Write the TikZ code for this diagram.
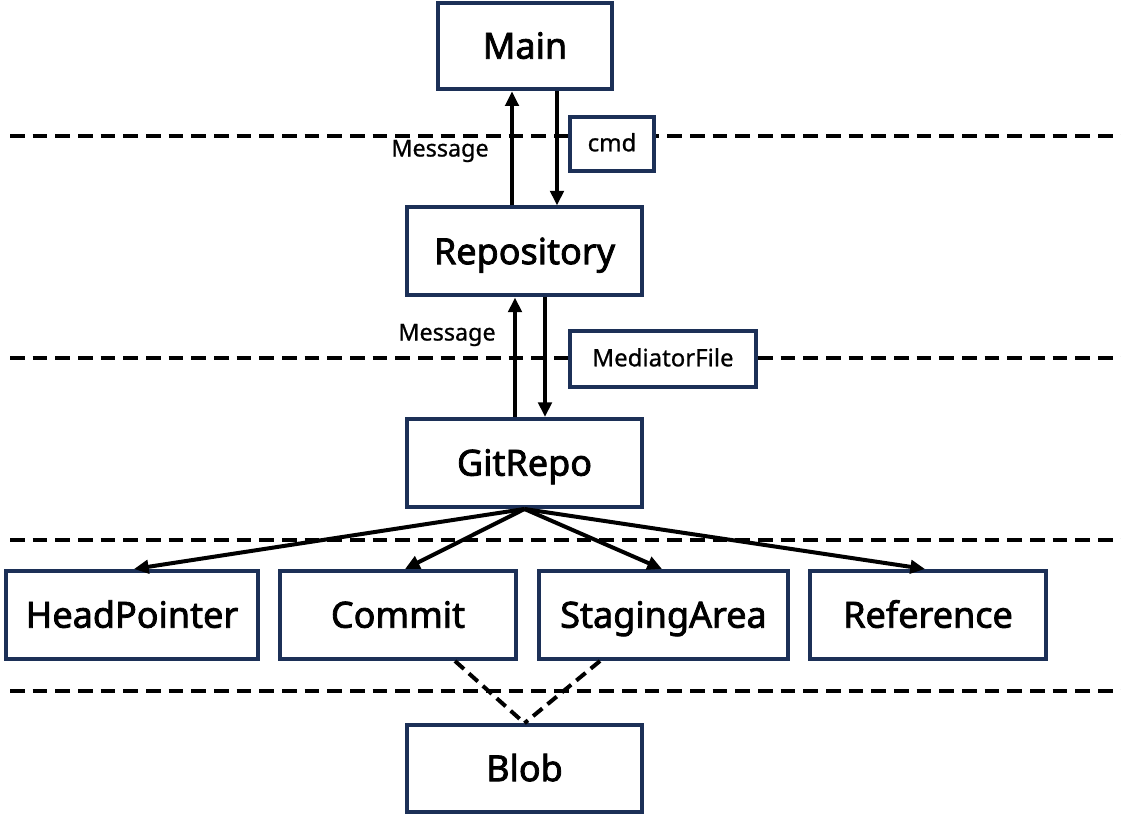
\documentclass[tikz,border=0pt]{standalone}
\usepackage{fontspec}
\setmainfont{Noto Sans}
\newfontfamily\heavy{Noto Sans}[FakeBold=2.2]
\newfontfamily\medium{Noto Sans}[FakeBold=0.8]
\usetikzlibrary{arrows.meta}
\definecolor{navy}{HTML}{1C3057}
\begin{document}
\begin{tikzpicture}[x=0.75pt,y=-0.75pt,
  box/.style={draw=navy,line width=3pt,fill=white,inner sep=0pt,text height=24pt,text depth=5pt,font=\heavy\fontsize{27}{32}\selectfont},
  lbl/.style={draw=navy,line width=3pt,fill=white,inner sep=0pt,text height=14pt,text depth=3pt,font=\medium\fontsize{18}{22}\selectfont},
  sep/.style={line width=3pt,dash pattern=on 11pt off 6pt},
  arr/.style={line width=3pt,-{Triangle[length=11pt,width=10pt]}},
  dep/.style={line width=3pt,dash pattern=on 9pt off 5pt},
  msg/.style={font=\medium\fontsize{17.5}{21}\selectfont,inner sep=0pt}]
\useasboundingbox (0,0) rectangle (1121,816);
% separators
\coordinate (s1a) at (10,136); \coordinate (s1b) at (1121,136);
\coordinate (s2a) at (10,358); \coordinate (s2b) at (1121,358);
\coordinate (s3a) at (10,540); \coordinate (s3b) at (1121,540);
\coordinate (s4a) at (10,691); \coordinate (s4b) at (1121,691);
\draw[sep] (s1a) -- (s1b);
\draw[sep] (s2a) -- (s2b);
\draw[sep] (s3a) -- (s3b);
\draw[sep] (s4a) -- (s4b);
% nodes
\node[box,minimum width=131pt,minimum height=65pt] (main) at (525,46) {Main};
\node[box,minimum width=176pt,minimum height=66pt] (repo) at (524.5,251.5) {Repository};
\node[box,minimum width=176pt,minimum height=66pt] (git) at (524.5,463) {GitRepo};
\node[box,minimum width=189pt,minimum height=66pt] (head) at (132,615) {HeadPointer};
\node[box,minimum width=177pt,minimum height=66pt] (commit) at (398,615) {Commit};
\node[box,minimum width=187pt,minimum height=66pt] (stage) at (663.5,615) {StagingArea};
\node[box,minimum width=177pt,minimum height=66pt] (ref) at (928,615) {Reference};
\node[box,minimum width=176pt,minimum height=65pt] (blob) at (524.5,768.5) {Blob};
\node[lbl,minimum width=63pt,minimum height=40pt] (cmd) at (612,144) {cmd};
\node[lbl,minimum width=139pt,minimum height=42pt] (med) at (663,359) {MediatorFile};
\node[msg] (m1) at (440,151) {Message};
\node[msg] (m2) at (447,335) {Message};
% arrows
\draw[arr] (repo.north -| 512,0) -- (main.south -| 512,0);
\draw[arr] (main.south -| 557,0) -- (repo.north -| 557,0);
\draw[arr] (git.north -| 515,0) -- (repo.south -| 515,0);
\draw[arr] (repo.south -| 545,0) -- (git.north -| 545,0);
\draw[arr] (git.south) -- (head.north -| 134,0);
\draw[arr] (git.south) -- (commit.north -| 405,0);
\draw[arr] (git.south) -- (stage.north -| 662,0);
\draw[arr] (git.south) -- (ref.north -| 925,0);
\draw[dep] (commit.south -| 455,0) -- (blob.north);
\draw[dep] (stage.south -| 600,0) -- (blob.north);
\end{tikzpicture}
\end{document}
